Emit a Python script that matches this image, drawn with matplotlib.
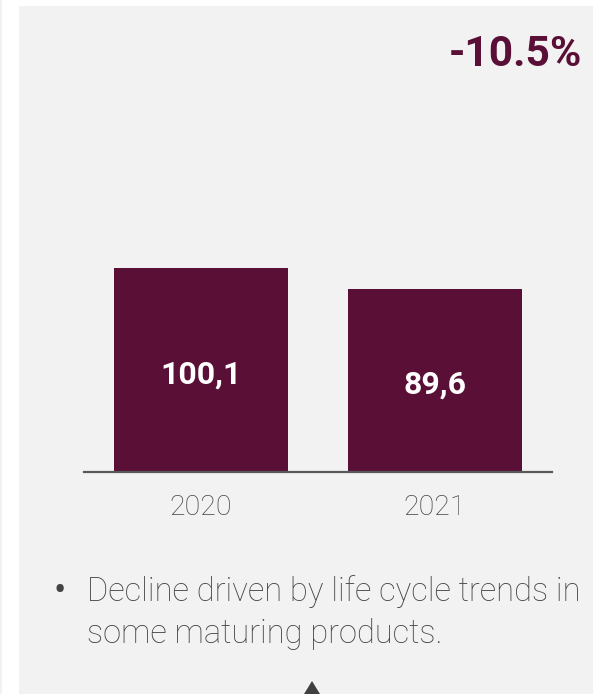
import matplotlib.pyplot as plt
from matplotlib.patches import Rectangle, Polygon

# Net sales, two years
years = ['2020', '2021']
sales = [100.1, 89.6]
value_labels = ['100,1', '89,6']
change_label = '-10.5%'
bullet_lines = ['Decline driven by life cycle trends in', 'some maturing products.']

W, H = 593, 694
plum = '#5a0f36'
grey_text = '#444444'

fig = plt.figure(figsize=(W / 100, H / 100), dpi=100, facecolor='white')

# panel backgrounds (behind the axes)
fig.patches.append(Rectangle((19 / W, 0), 1 - 19 / W, 1 - 6 / H, transform=fig.transFigure,
                             facecolor='#f2f2f2', edgecolor='none', zorder=-2))
fig.patches.append(Rectangle((0, 0), 2 / W, 1, transform=fig.transFigure,
                             facecolor='#f2f2f2', edgecolor='none', zorder=-2))

# bar axes: baseline at y=472px, 204px per 100.1
ax_left, ax_right = 84, 552
base_y, top_y = 472, 100
ax = fig.add_axes([ax_left / W, (H - base_y) / H, (ax_right - ax_left) / W, (base_y - top_y) / H])
ax.set_facecolor('none')
ax.set_xlim(-0.5, 1.5)
ax.set_ylim(0, (base_y - top_y) * sales[0] / 204)

x = range(len(years))
ax.bar(x, sales, width=0.744, color=plum, zorder=2)
for i, (v, lab) in enumerate(zip(sales, value_labels)):
    ax.text(i, v / 2 - 2, lab, ha='center', va='center', color='white',
            fontsize=23, fontweight='bold', family='Roboto')

for s in ['top', 'left', 'right']:
    ax.spines[s].set_visible(False)
ax.spines['bottom'].set_color('#595959')
ax.spines['bottom'].set_linewidth(1.6)
ax.set_yticks([])
ax.set_xticks(list(x))
ax.set_xticklabels(years, fontsize=20.5, color=grey_text, family='Roboto', fontweight='light')
ax.tick_params(axis='x', length=0, pad=16)

# change vs previous year
fig.text(582 / W, 1 - 55 / H, change_label, ha='right', va='center', color=plum,
         fontsize=30.6, fontweight='bold', family='Roboto')

# commentary bullet
fig.text(53 / W, 1 - 592 / H, '•', ha='left', va='center', color=grey_text,
         fontsize=26, family='Roboto')
for k, line in enumerate(bullet_lines):
    fig.text(87 / W, 1 - (592 + 42 * k) / H, line, ha='left', va='center',
             color=grey_text, fontsize=23.5, family='Roboto', fontweight='light')

# arrow tip at bottom edge
fig.patches.append(Polygon([(304 / W, 0), (320 / W, 0), (312 / W, 13 / H)], closed=True,
                           transform=fig.transFigure, facecolor='#404040', edgecolor='none'))

fig.savefig('out.png', dpi=100, facecolor=fig.get_facecolor())
